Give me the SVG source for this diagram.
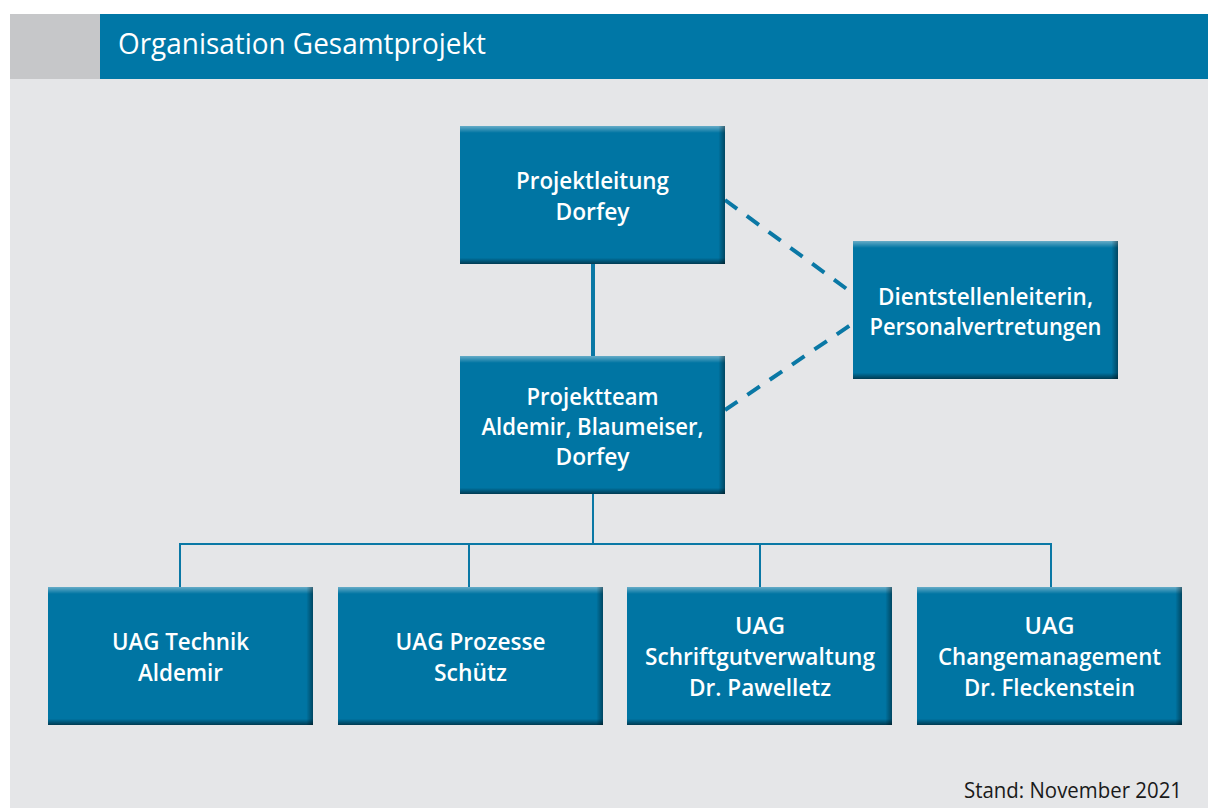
<svg xmlns="http://www.w3.org/2000/svg" width="1208" height="808" viewBox="0 0 1208 808">
  <defs>
    <!-- bevel: light top lip, dark bottom lip -->
    <linearGradient id="vshade" x1="0" y1="0" x2="0" y2="1">
      <stop offset="0" stop-color="#ffffff" stop-opacity="0.4"/>
      <stop offset="0.05" stop-color="#ffffff" stop-opacity="0"/>
      <stop offset="0.955" stop-color="#000000" stop-opacity="0"/>
      <stop offset="1" stop-color="#000000" stop-opacity="0.5"/>
    </linearGradient>
    <!-- bevel: dark right edge -->
    <linearGradient id="hshade" x1="0" y1="0" x2="1" y2="0">
      <stop offset="0" stop-color="#000000" stop-opacity="0"/>
      <stop offset="0.975" stop-color="#000000" stop-opacity="0"/>
      <stop offset="1" stop-color="#000000" stop-opacity="0.4"/>
    </linearGradient>
    <style>
      .box { fill: #0075a3; }
      .vs { fill: url(#vshade); }
      .hs { fill: url(#hshade); }
      .lbl { fill: #ffffff; font-family: "Open Sans", "Noto Sans", "Liberation Sans", sans-serif; font-weight: 600; font-size: 23px; text-anchor: middle; }
      .title { fill: #ffffff; font-family: "Open Sans", "Noto Sans", "Liberation Sans", sans-serif; font-size: 29px; }
      .note { fill: #1a1a1a; font-family: "Open Sans", "Noto Sans", "Liberation Sans", sans-serif; font-size: 21px; text-anchor: end; }
      .solid { stroke: #0a78a5; fill: none; }
      .dash { stroke: #0a78a5; fill: none; stroke-width: 4; stroke-dasharray: 15 12; }
    </style>
  </defs>

  <!-- page -->
  <rect x="0" y="0" width="1208" height="808" fill="#ffffff"/>
  <rect x="10" y="79" width="1198" height="729" fill="#e5e6e8"/>

  <!-- header bar -->
  <g id="header">
    <rect x="10" y="14" width="90" height="65" fill="#c6c7c9"/>
    <rect x="100" y="14" width="1108" height="65" fill="#0077a6"/>
    <text class="title" x="118" y="54" textLength="368" lengthAdjust="spacingAndGlyphs">Organisation Gesamtprojekt</text>
  </g>

  <!-- connectors -->
  <g id="connectors">
    <line class="solid" x1="593" y1="263" x2="593" y2="357" stroke-width="4"/>
    <line class="dash" x1="725" y1="200" x2="855" y2="295"/>
    <line class="dash" x1="725" y1="410" x2="855" y2="322"/>
    <path class="solid" stroke-width="2" d="M593 493 V544 M180 587 V544 H1051 V587 M469 544 V587 M760 544 V587"/>
  </g>

  <g id="projektleitung">
    <rect class="box" x="460" y="126" width="265" height="138"/>
    <rect class="vs" x="460" y="126" width="265" height="138"/>
    <rect class="hs" x="460" y="126" width="265" height="138"/>
    <text class="lbl" x="592.5" y="189" textLength="153" lengthAdjust="spacingAndGlyphs">Projektleitung</text>
    <text class="lbl" x="592.5" y="220" textLength="74" lengthAdjust="spacingAndGlyphs">Dorfey</text>
  </g>

  <g id="projektteam">
    <rect class="box" x="460" y="356" width="265" height="138"/>
    <rect class="vs" x="460" y="356" width="265" height="138"/>
    <rect class="hs" x="460" y="356" width="265" height="138"/>
    <text class="lbl" x="592.5" y="405" textLength="132" lengthAdjust="spacingAndGlyphs">Projektteam</text>
    <text class="lbl" x="592.5" y="435" textLength="222" lengthAdjust="spacingAndGlyphs">Aldemir, Blaumeiser,</text>
    <text class="lbl" x="592.5" y="465" textLength="74" lengthAdjust="spacingAndGlyphs">Dorfey</text>
  </g>

  <g id="dienststellen">
    <rect class="box" x="853" y="241" width="265" height="138"/>
    <rect class="vs" x="853" y="241" width="265" height="138"/>
    <rect class="hs" x="853" y="241" width="265" height="138"/>
    <text class="lbl" x="985.5" y="305" textLength="215" lengthAdjust="spacingAndGlyphs">Dientstellenleiterin,</text>
    <text class="lbl" x="985.5" y="335" textLength="232" lengthAdjust="spacingAndGlyphs">Personalvertretungen</text>
  </g>

  <g id="uag-technik">
    <rect class="box" x="48" y="587" width="265" height="138"/>
    <rect class="vs" x="48" y="587" width="265" height="138"/>
    <rect class="hs" x="48" y="587" width="265" height="138"/>
    <text class="lbl" x="180.5" y="650" textLength="137" lengthAdjust="spacingAndGlyphs">UAG Technik</text>
    <text class="lbl" x="180.5" y="681" textLength="85" lengthAdjust="spacingAndGlyphs">Aldemir</text>
  </g>

  <g id="uag-prozesse">
    <rect class="box" x="338" y="587" width="265" height="138"/>
    <rect class="vs" x="338" y="587" width="265" height="138"/>
    <rect class="hs" x="338" y="587" width="265" height="138"/>
    <text class="lbl" x="470.5" y="650" textLength="150" lengthAdjust="spacingAndGlyphs">UAG Prozesse</text>
    <text class="lbl" x="470.5" y="681" textLength="73" lengthAdjust="spacingAndGlyphs">Schütz</text>
  </g>

  <g id="uag-schriftgut">
    <rect class="box" x="627" y="587" width="265" height="138"/>
    <rect class="vs" x="627" y="587" width="265" height="138"/>
    <rect class="hs" x="627" y="587" width="265" height="138"/>
    <text class="lbl" x="760" y="634" textLength="50" lengthAdjust="spacingAndGlyphs">UAG</text>
    <text class="lbl" x="760" y="665" textLength="230" lengthAdjust="spacingAndGlyphs">Schriftgutverwaltung</text>
    <text class="lbl" x="760" y="696" textLength="142" lengthAdjust="spacingAndGlyphs">Dr. Pawelletz</text>
  </g>

  <g id="uag-change">
    <rect class="box" x="917" y="587" width="265" height="138"/>
    <rect class="vs" x="917" y="587" width="265" height="138"/>
    <rect class="hs" x="917" y="587" width="265" height="138"/>
    <text class="lbl" x="1049.5" y="634" textLength="50" lengthAdjust="spacingAndGlyphs">UAG</text>
    <text class="lbl" x="1049.5" y="665" textLength="223" lengthAdjust="spacingAndGlyphs">Changemanagement</text>
    <text class="lbl" x="1049.5" y="696" textLength="171" lengthAdjust="spacingAndGlyphs">Dr. Fleckenstein</text>
  </g>

  <text class="note" x="1182" y="798" textLength="218" lengthAdjust="spacingAndGlyphs">Stand: November 2021</text>
</svg>
